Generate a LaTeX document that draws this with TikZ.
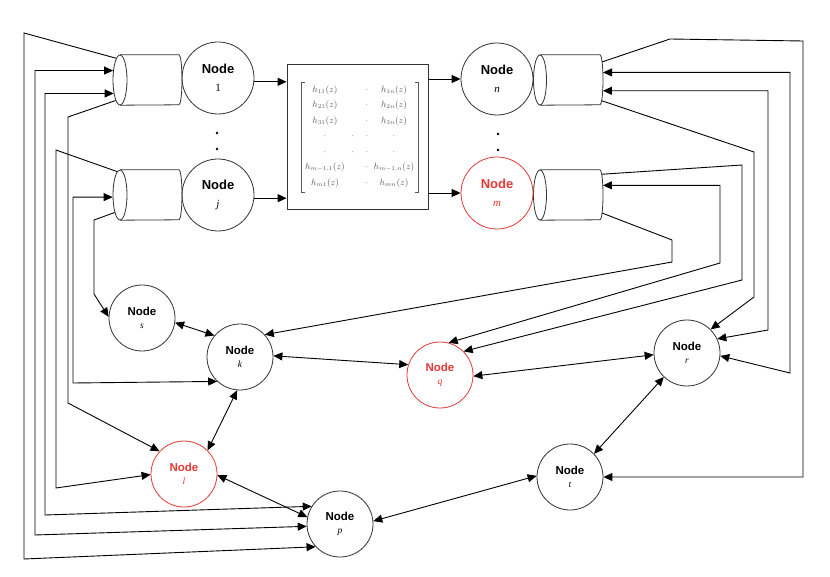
\documentclass[tikz,border=0pt]{standalone}
\usepackage{fontspec}
\setsansfont{Liberation Sans}
\newfontfamily\subserif{Liberation Serif}
\usetikzlibrary{arrows.meta,shapes.geometric}
\definecolor{nred}{RGB}{229,57,53}
\definecolor{mgray}{RGB}{90,90,90}
\newcommand{\bigsub}[1]{{\normalfont\subserif\fontsize{11}{13}\selectfont #1}}
\newcommand{\smsub}[1]{{\normalfont\subserif\fontsize{9.5}{11}\selectfont #1}}
\begin{document}
\begin{tikzpicture}[x=1pt,y=-1pt,
  tip/.style={-{Triangle[length=9pt,width=8pt]}},
  dtip/.style={{Triangle[length=9pt,width=8pt]}-{Triangle[length=9pt,width=8pt]}},
  conn/.style={line width=0.9pt, draw=black},
  bignode/.style={circle, draw=black!80, line width=0.8pt, minimum size=72pt, inner sep=0pt, align=center, font=\sffamily\bfseries\fontsize{13}{15}\selectfont},
  smallnode/.style={circle, draw=black!80, line width=0.8pt, minimum size=66pt, inner sep=0pt, align=center, font=\sffamily\bfseries\fontsize{11.5}{13}\selectfont},
  rednode/.style={draw=nred, text=nred},
  qface/.style={ellipse, draw=black!80, line width=0.8pt, minimum width=14pt, minimum height=50pt, inner sep=0pt},
  qend/.style={ellipse, minimum width=6pt, minimum height=50pt, inner sep=0pt},
  qbody/.style={draw=black!80, line width=0.8pt},
  mtx/.style={text=mgray, inner sep=0pt, font=\fontsize{9.2}{11}\selectfont},
  dotn/.style={circle, fill=black, inner sep=0pt, minimum size=2.6pt},
]
\fill[white] (0,0) rectangle (830,577);
\useasboundingbox (0,0) rectangle (830,577);

% queues: front face (named), far end (named, invisible), body
\node[qend] (c1e) at (179,80) {};
\node[qend] (cje) at (179,195) {};
\node[qend] (cne) at (600,80) {};
\node[qend] (cme) at (600,195) {};
\draw[qbody] (c1e.north -| 120,0) -- (c1e.north) arc(-90:90:3 and 25) -- (c1e.south -| 120,0);
\draw[qbody] (cje.north -| 120,0) -- (cje.north) arc(-90:90:3 and 25) -- (cje.south -| 120,0);
\draw[qbody] (cne.north -| 540,0) -- (cne.north) arc(-90:90:3 and 25) -- (cne.south -| 540,0);
\draw[qbody] (cme.north -| 540,0) -- (cme.north) arc(-90:90:3 and 25) -- (cme.south -| 540,0);
\node[qface] (c1) at (120,80) {};
\node[qface] (cj) at (120,195) {};
\node[qface,minimum width=13pt] (cn) at (540,80) {};
\node[qface,minimum width=13pt] (cm) at (540,195) {};

% top nodes
\node[bignode] (n1) at (218,78) {Node\\[3pt]\bigsub{1}};
\node[bignode] (nj) at (218,195) {Node\\[3pt]\bigsub{\itshape j}};
\node[bignode] (n) at (497,79) {Node\\[3pt]\bigsub{\itshape n}};
\node[bignode,rednode] (m) at (497,193) {Node\\[3pt]\bigsub{\itshape m}};

\node[dotn] (d1) at (217,133) {};
\node[dotn] (d2) at (217,149) {};
\node[dotn] (d3) at (498,134) {};
\node[dotn] (d4) at (498,150) {};

% matrix box
\node[draw=black!80, line width=0.8pt, minimum width=141pt, minimum height=145pt, inner sep=0pt] (H) at (357.5,136.5) {};
\draw[mgray, line width=0.6pt] (304.5,82) -- (301,82) -- (301,192) -- (304.5,192);
\draw[mgray, line width=0.6pt] (414.5,82) -- (418,82) -- (418,192) -- (414.5,192);
\node[mtx] (a1) at (325,90) {$h_{11}(z)$};
\node[mtx] (a2) at (325,105.5) {$h_{21}(z)$};
\node[mtx] (a3) at (325,121) {$h_{31}(z)$};
\node[mtx] (a4) at (325,136.5) {$\cdot$};
\node[mtx] (a5) at (325,152) {$\cdot$};
\node[mtx] (a6) at (325,167.5) {$h_{m-1,1}(z)$};
\node[mtx] (a7) at (325,183) {$h_{m1}(z)$};
\node[mtx] (b4) at (353,136.5) {$\cdot$};
\node[mtx] (b5) at (353,152) {$\cdot$};
\foreach \i/\yy in {1/90,2/105.5,3/121,4/136.5,5/152,6/167.5,7/183}
  \node[mtx] (mid\i) at (367,\yy) {$\cdot$};
\node[mtx] (e1) at (394,90) {$h_{1n}(z)$};
\node[mtx] (e2) at (394,105.5) {$h_{2n}(z)$};
\node[mtx] (e3) at (394,121) {$h_{3n}(z)$};
\node[mtx] (e4) at (394,136.5) {$\cdot$};
\node[mtx] (e5) at (394,152) {$\cdot$};
\node[mtx] (e6) at (394,167.5) {$h_{m-1,n}(z)$};
\node[mtx] (e7) at (394,183) {$h_{mn}(z)$};

% lower nodes
\node[smallnode] (s) at (142,318) {Node\\\smsub{\itshape s}};
\node[smallnode] (k) at (240,357) {Node\\\smsub{\itshape k}};
\node[smallnode,rednode] (q) at (440,375) {Node\\\smsub{\itshape q}};
\node[smallnode] (r) at (687,353) {Node\\\smsub{\itshape r}};
\node[smallnode,rednode] (l) at (184,474) {Node\\\smsub{\itshape l}};
\node[smallnode] (p) at (340,524) {Node\\\smsub{\itshape p}};
\node[smallnode] (t) at (570,477) {Node\\\smsub{\itshape t}};

% top arrows
\draw[conn,tip] (n1.-6) -- (n1.-6 -| H.west);
\draw[conn,tip] (nj.-5) -- (nj.-5 -| H.west);
\draw[conn,tip] (H.east |- n.west) -- (n.west);
\draw[conn,tip] (H.east |- m.west) -- (m.west);

% left feedback lines
\draw[conn,tip] (c1.100) -- (24,33) -- (24,559) -- (p.223);
\draw[conn,dtip] (p.184) -- (35,535) |- (c1.126);
\draw[conn,dtip] (p.148) -- (45,515) |- (c1.245);
\draw[conn,tip] (c1.258) -- (68,117) -- (68,403) -- (l.137);
\draw[conn,tip] (cj.97) -- (56,150) -- (56,488) -- (l.181);
\draw[conn,dtip] (k.227) -- (73,383) |- (cj.196);
\draw[conn,tip] (cj.253) -- (94,220) -- (94,294) -- (s.178);

% right feedback lines
\draw[conn,tip] (cne.83) -- (670,39) -- (803,41) |- (t.0);
\draw[conn,dtip] (r.-5) -- (790,373) |- (cne.68);
\draw[conn,dtip] (r.25) -- (768,330) |- (cne.-75);
\draw[conn,tip] (cne.-85) -- (754,152) -- (754,297) -- (r.45);
\draw[conn,tip] (cme.85) -- (742,165) -- (742,280) -- (q.45);
\draw[conn,dtip] (q.75) -- (720,263) |- (cme.73);
\draw[conn,tip] (cme.-83) -- (672,240) -- (672,262) -- (k.42);

% node-to-node links
\draw[conn,dtip] (s.-8) -- (k.140);
\draw[conn,dtip] (k.2) -- (q.162);
\draw[conn,dtip] (k.265) -- (l.45);
\draw[conn,dtip] (l.-2) -- (p.168);
\draw[conn,dtip] (q.-2) -- (r.183);
\draw[conn,dtip] (r.226) -- (t.44);
\draw[conn,dtip] (p.5) -- (t.178);
\end{tikzpicture}
\end{document}
